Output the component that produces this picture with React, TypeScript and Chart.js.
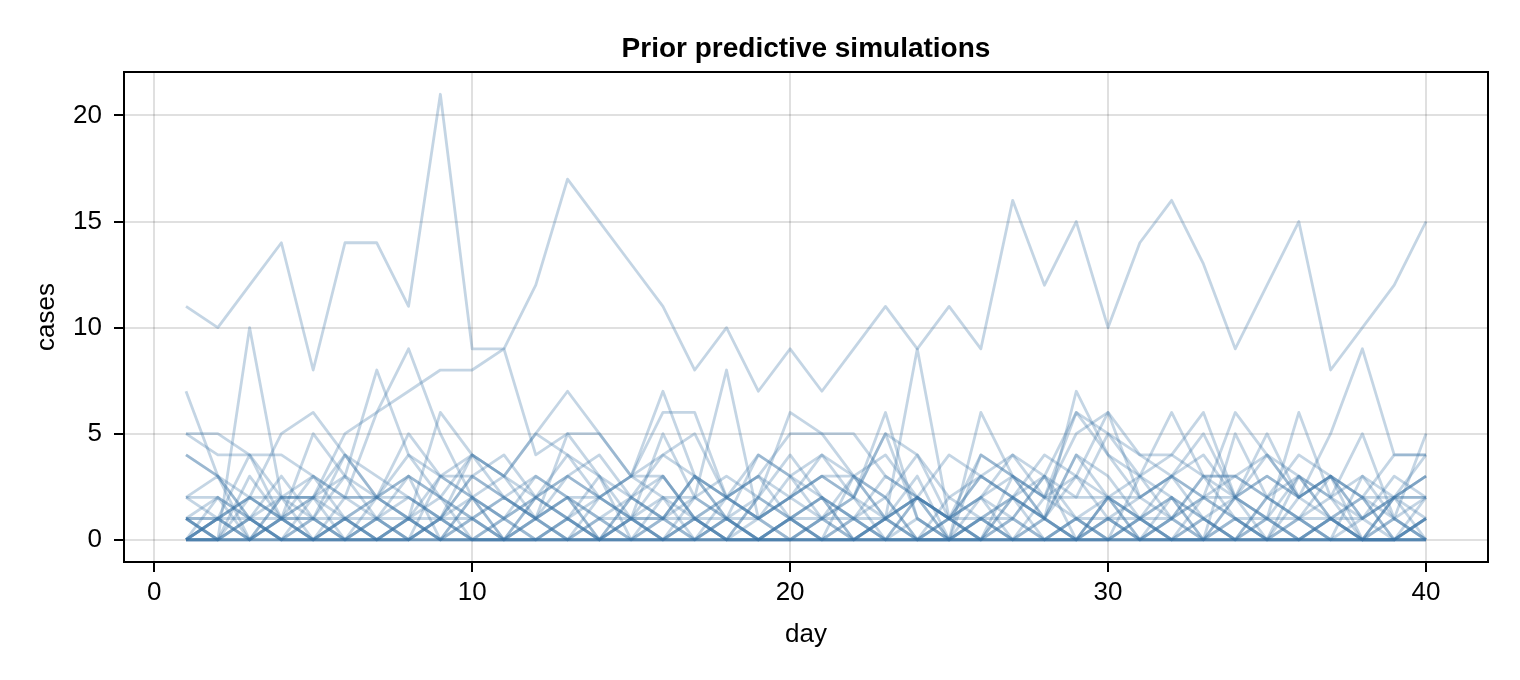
import { useEffect, useRef } from "react";
import { Chart, registerables } from "chart.js";

Chart.register(...registerables);

// Day index of each simulated observation
const days = [
  1, 2, 3, 4, 5, 6, 7, 8, 9, 10, 11, 12, 13, 14, 15, 16, 17, 18, 19, 20,
  21, 22, 23, 24, 25, 26, 27, 28, 29, 30, 31, 32, 33, 34, 35, 36, 37, 38, 39, 40,
];

// Simulated daily case counts, one array per prior draw
const sim01 = [11, 10, 12, 14, 8, 14, 14, 11, 21, 9, 9, 12, 17, 15, 13, 11, 8, 10, 7, 9, 7, 9, 11, 9, 11, 9, 16, 12, 15, 10, 14, 16, 13, 9, 12, 15, 8, 10, 12, 15];
const sim02 = [7, 3, 0, 1, 2, 3, 8, 4, 2, 0, 1, 2, 1, 0, 2, 1, 2, 8, 1, 0, 1, 2, 0, 1, 0, 0, 2, 1, 0, 1, 0, 2, 1, 0, 1, 0, 1, 0, 2, 1];
const sim03 = [1, 0, 10, 2, 1, 0, 1, 0, 3, 2, 0, 1, 2, 0, 1, 3, 1, 0, 2, 1, 0, 1, 2, 0, 1, 0, 1, 3, 0, 2, 1, 0, 2, 1, 0, 3, 1, 0, 0, 1];
const sim04 = [0, 1, 2, 1, 3, 2, 6, 9, 5, 2, 3, 5, 4, 2, 3, 7, 3, 1, 2, 6, 5, 3, 2, 4, 1, 3, 2, 1, 7, 4, 2, 3, 5, 2, 1, 6, 2, 1, 3, 2];
const sim05 = [5, 5, 4, 2, 2, 5, 6, 7, 8, 8, 9, 4, 5, 5, 3, 6, 6, 2, 3, 5, 5, 5, 3, 2, 0, 4, 3, 2, 6, 5, 4, 4, 3, 3, 4, 3, 2, 3, 2, 3];
const sim06 = [4, 3, 2, 5, 6, 4, 3, 2, 1, 4, 2, 1, 3, 2, 3, 4, 5, 2, 1, 3, 4, 2, 6, 1, 0, 2, 1, 3, 2, 5, 3, 4, 6, 2, 1, 3, 2, 5, 1, 5];
const sim07 = [5, 4, 4, 4, 3, 2, 2, 5, 3, 4, 3, 5, 7, 5, 3, 2, 2, 1, 1, 2, 3, 2, 5, 4, 2, 3, 4, 2, 3, 6, 4, 3, 2, 6, 4, 2, 5, 9, 4, 4];
const sim08 = [2, 1, 2, 2, 2, 2, 2, 2, 1, 3, 2, 1, 2, 2, 3, 3, 1, 2, 1, 2, 3, 2, 1, 2, 1, 2, 3, 2, 2, 2, 2, 3, 2, 2, 3, 2, 3, 2, 2, 2];
const sim09 = [1, 1, 1, 1, 1, 1, 1, 1, 1, 1, 2, 1, 0, 1, 1, 1, 1, 1, 0, 1, 1, 1, 1, 2, 1, 1, 1, 0, 1, 1, 1, 1, 2, 1, 1, 1, 1, 1, 2, 2];
const sim10 = [0, 1, 0, 1, 0, 0, 0, 1, 0, 0, 1, 0, 0, 0, 1, 0, 0, 0, 0, 1, 0, 0, 0, 0, 1, 0, 0, 0, 1, 0, 0, 0, 0, 0, 1, 0, 0, 0, 0, 0];
const sim11 = [1, 0, 1, 0, 0, 1, 0, 0, 1, 0, 0, 0, 1, 0, 0, 1, 0, 1, 0, 0, 0, 1, 0, 0, 0, 1, 0, 0, 0, 1, 0, 0, 1, 0, 0, 0, 1, 0, 0, 1];
const sim12 = [0, 0, 0, 0, 0, 0, 0, 0, 0, 0, 0, 0, 0, 0, 0, 0, 0, 0, 0, 0, 0, 0, 0, 0, 0, 0, 0, 0, 0, 0, 0, 0, 0, 0, 0, 0, 0, 0, 0, 0];
const sim13 = [0, 0, 0, 0, 0, 0, 0, 0, 1, 0, 0, 0, 0, 0, 0, 0, 0, 0, 0, 0, 0, 0, 0, 0, 0, 0, 0, 0, 0, 0, 1, 0, 0, 0, 0, 0, 0, 0, 0, 0];
const sim14 = [1, 2, 0, 2, 2, 0, 1, 0, 1, 2, 0, 2, 1, 0, 2, 3, 1, 0, 2, 1, 0, 3, 1, 0, 2, 1, 2, 1, 0, 2, 0, 1, 3, 1, 0, 2, 3, 0, 2, 4];
const sim15 = [0, 1, 0, 2, 0, 1, 0, 1, 2, 1, 0, 1, 2, 0, 1, 2, 0, 1, 0, 1, 2, 1, 0, 2, 0, 1, 2, 0, 1, 0, 1, 2, 0, 2, 1, 0, 1, 2, 0, 1];
const sim16 = [1, 1, 4, 1, 1, 3, 2, 1, 3, 3, 2, 3, 2, 1, 2, 1, 3, 2, 1, 2, 3, 3, 1, 2, 4, 3, 2, 1, 4, 3, 1, 3, 4, 2, 3, 2, 1, 0, 2, 3];
const sim17 = [0, 0, 3, 1, 5, 3, 1, 2, 1, 3, 4, 2, 4, 3, 1, 5, 2, 1, 4, 3, 1, 2, 5, 1, 0, 6, 3, 1, 4, 2, 3, 2, 0, 5, 2, 1, 3, 2, 1, 0];
const sim18 = [4, 3, 1, 0, 2, 4, 2, 1, 6, 4, 3, 2, 1, 2, 1, 0, 2, 3, 2, 4, 2, 1, 0, 2, 1, 4, 3, 2, 5, 6, 2, 1, 3, 2, 5, 2, 3, 1, 0, 2];
const sim19 = [0, 2, 1, 0, 1, 0, 2, 1, 0, 2, 1, 0, 1, 3, 0, 1, 0, 2, 1, 0, 1, 0, 1, 9, 1, 0, 3, 1, 0, 2, 1, 0, 1, 0, 2, 1, 0, 3, 1, 0];
const sim20 = [1, 0, 2, 1, 0, 2, 1, 3, 0, 1, 2, 1, 0, 2, 1, 1, 3, 1, 0, 1, 2, 0, 1, 3, 0, 1, 0, 2, 1, 0, 3, 1, 0, 2, 0, 1, 2, 0, 1, 2];
const sim21 = [2, 2, 1, 3, 1, 4, 2, 3, 2, 4, 3, 1, 5, 3, 2, 4, 3, 2, 3, 2, 4, 3, 4, 2, 1, 2, 4, 3, 6, 4, 3, 6, 3, 3, 2, 4, 3, 2, 4, 4];
const sim22 = [0, 0, 0, 1, 0, 0, 1, 0, 0, 0, 0, 0, 0, 1, 0, 0, 0, 0, 0, 0, 1, 0, 0, 0, 0, 0, 0, 0, 0, 0, 0, 1, 0, 0, 0, 0, 0, 0, 1, 0];
const sim23 = [0, 0, 1, 0, 0, 0, 0, 0, 0, 1, 0, 0, 0, 0, 0, 0, 1, 0, 0, 0, 0, 0, 0, 0, 0, 1, 0, 0, 0, 0, 0, 0, 0, 1, 0, 0, 0, 0, 0, 0];
const sim24 = [0, 1, 2, 1, 0, 1, 2, 3, 2, 1, 0, 2, 3, 2, 1, 0, 1, 2, 3, 1, 2, 0, 1, 2, 1, 0, 2, 3, 1, 2, 0, 1, 2, 3, 2, 1, 0, 1, 2, 0];
const sim25 = [1, 0, 0, 1, 2, 1, 0, 1, 0, 2, 1, 3, 2, 1, 0, 2, 1, 0, 1, 2, 1, 3, 2, 0, 1, 2, 0, 1, 3, 2, 1, 2, 1, 0, 2, 3, 1, 2, 0, 1];
const sim26 = [0, 0, 1, 0, 0, 1, 0, 1, 0, 0, 0, 1, 0, 0, 1, 0, 0, 1, 0, 0, 0, 0, 1, 0, 0, 0, 1, 0, 0, 1, 0, 0, 0, 1, 0, 0, 1, 0, 0, 0];
const sim27 = [2, 3, 1, 2, 3, 1, 2, 4, 3, 2, 1, 2, 3, 4, 2, 1, 3, 2, 4, 3, 2, 1, 3, 2, 1, 3, 2, 4, 3, 1, 2, 3, 1, 2, 4, 2, 3, 1, 2, 3];
const sim28 = [0, 1, 0, 0, 1, 0, 0, 0, 1, 0, 0, 0, 1, 0, 0, 0, 1, 0, 0, 1, 0, 0, 1, 0, 0, 0, 0, 1, 0, 0, 1, 0, 0, 0, 0, 1, 0, 0, 0, 1];

const simulations = [
  sim01, sim02, sim03, sim04, sim05, sim06, sim07, sim08, sim09, sim10, sim11, sim12, sim13, sim14,
  sim15, sim16, sim17, sim18, sim19, sim20, sim21, sim22, sim23, sim24, sim25, sim26, sim27, sim28,
];

// Axis ticks and limits
const xTicks = [0, 10, 20, 30, 40];
const yTicks = [0, 5, 10, 15, 20];
const xLimits = [-0.95, 41.95];
const yLimits = [-1.05, 22.05];

const TITLE = "Prior predictive simulations";
const FONT = "'Liberation Sans', Arial, Helvetica, sans-serif";
const LINE_COLOR = "rgba(58, 116, 166, 0.3)";
const GRID_COLOR = "rgba(0, 0, 0, 0.12)";

// Closed black frame around the plotting area, plus the title centred over it
const framePlugin = {
  id: "axisFrame",
  afterDraw(chart: any) {
    const { ctx, chartArea } = chart;
    const { left, top, right, bottom } = chartArea;
    ctx.save();
    ctx.strokeStyle = "#000";
    ctx.lineWidth = 2;
    ctx.strokeRect(left, top, right - left, bottom - top);

    ctx.fillStyle = "#000";
    ctx.font = `bold 28px ${FONT}`;
    ctx.textAlign = "center";
    ctx.textBaseline = "alphabetic";
    ctx.fillText(TITLE, (left + right) / 2, 57);
    ctx.restore();
  },
};

export default function App() {
  const canvasRef = useRef<HTMLCanvasElement | null>(null);

  useEffect(() => {
    document.body.style.margin = "0";
    const canvas = canvasRef.current;
    if (!canvas) return;

    const datasets = simulations.map((series, i) => ({
      label: `sim ${i + 1}`,
      data: series.map((v, j) => ({ x: days[j], y: v })),
      borderColor: LINE_COLOR,
      backgroundColor: LINE_COLOR,
      borderWidth: 2.8,
      pointRadius: 0,
      pointHoverRadius: 0,
      fill: false,
      tension: 0,
      borderJoinStyle: "round" as const,
    }));

    const chart = new Chart(canvas, {
      type: "line",
      data: { datasets },
      plugins: [framePlugin],
      options: {
        animation: false,
        responsive: false,
        maintainAspectRatio: false,
        devicePixelRatio: 1,
        events: [],
        layout: { padding: { top: 72, left: 0, right: 32, bottom: 0 } },
        plugins: {
          legend: { display: false },
          tooltip: { enabled: false },
          title: { display: false },
        },
        scales: {
          x: {
            type: "linear",
            min: xLimits[0],
            max: xLimits[1],
            afterBuildTicks: (scale: any) => {
              scale.ticks = xTicks.map((v) => ({ value: v }));
            },
            afterFit: (scale: any) => {
              scale.height = 118;
            },
            ticks: {
              color: "#000",
              font: { family: FONT, size: 26 },
              padding: 5,
              maxRotation: 0,
              autoSkip: false,
            },
            grid: {
              color: GRID_COLOR,
              lineWidth: 2,
              drawTicks: true,
              tickLength: 10,
              tickColor: "#000",
              tickWidth: 2,
            },
            border: { display: false },
            title: {
              display: true,
              text: "day",
              color: "#000",
              font: { family: FONT, size: 26, lineHeight: 1.2 },
              padding: { top: 0, bottom: 30 },
            },
          },
          y: {
            type: "linear",
            min: yLimits[0],
            max: yLimits[1],
            afterBuildTicks: (scale: any) => {
              scale.ticks = yTicks.map((v) => ({ value: v }));
            },
            afterFit: (scale: any) => {
              scale.width = 124;
            },
            ticks: {
              color: "#000",
              font: { family: FONT, size: 26 },
              padding: 12,
              autoSkip: false,
            },
            grid: {
              color: GRID_COLOR,
              lineWidth: 2,
              drawTicks: true,
              tickLength: 10,
              tickColor: "#000",
              tickWidth: 2,
            },
            border: { display: false },
            title: {
              display: true,
              text: "cases",
              color: "#000",
              font: { family: FONT, size: 26, lineHeight: 1.2 },
              padding: { top: 31, bottom: 0 },
            },
          },
        },
      },
    });

    return () => {
      chart.destroy();
    };
  }, []);

  return (
    <div style={{ position: "absolute", left: 0, top: 0, width: 1520, height: 680, background: "#fff" }}>
      <canvas ref={canvasRef} width={1520} height={680} />
    </div>
  );
}
